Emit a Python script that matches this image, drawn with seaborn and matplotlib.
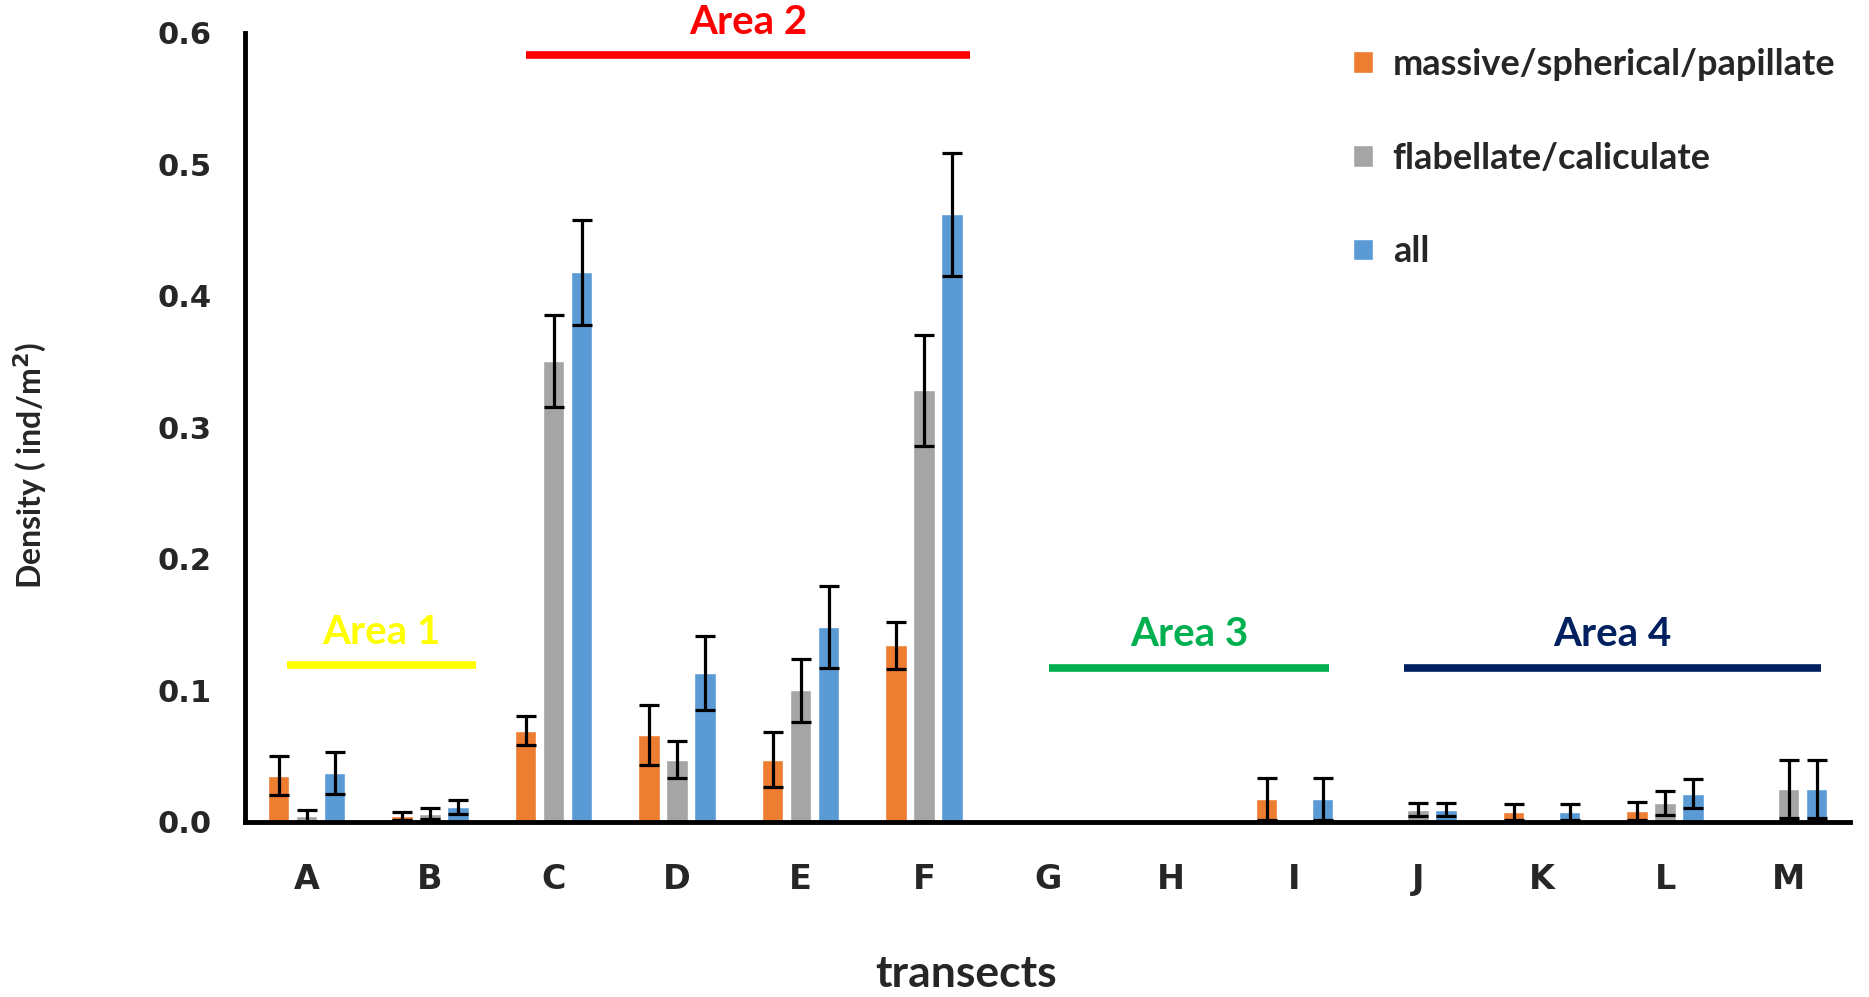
import numpy as np
import pandas as pd
import matplotlib
matplotlib.use('Agg')
import matplotlib.pyplot as plt
import seaborn as sns

transects = ['A', 'B', 'C', 'D', 'E', 'F', 'G', 'H', 'I', 'J', 'K', 'L', 'M']
groups = ['massive/spherical/papillate', 'flabellate/caliculate', 'all']

massive = [0.035, 0.004, 0.069, 0.066, 0.047, 0.134, 0, 0, 0.017, 0, 0.007, 0.008, 0]
massive_err = [0.015, 0.003, 0.011, 0.023, 0.021, 0.018, 0, 0, 0.016, 0, 0.006, 0.007, 0]
flabellate = [0.004, 0.006, 0.350, 0.047, 0.100, 0.328, 0, 0, 0, 0.009, 0, 0.014, 0.025]
flabellate_err = [0.005, 0.004, 0.035, 0.014, 0.024, 0.042, 0, 0, 0, 0.005, 0, 0.009, 0.022]
all_ = [0.037, 0.011, 0.418, 0.113, 0.148, 0.462, 0, 0, 0.017, 0.009, 0.007, 0.021, 0.025]
all_err = [0.016, 0.005, 0.040, 0.028, 0.031, 0.047, 0, 0, 0.016, 0.005, 0.006, 0.011, 0.022]

areas = ['Area 1', 'Area 2', 'Area 3', 'Area 4']
area_colors = ['#FFFF00', '#FF0000', '#00B050', '#002060']
area_x = [(-0.16, 1.37), (1.78, 5.37), (6.01, 8.28), (8.89, 12.26)]
area_y = [0.119, 0.583, 0.117, 0.117]

colors = ['#ED7D31', '#A5A5A5', '#5B9BD5']

df = pd.DataFrame({
    'transect': transects * 3,
    'group': [g for g in groups for _ in transects],
    'value': massive + flabellate + all_,
    'err': massive_err + flabellate_err + all_err,
})

sns.set_style('white')
fig = plt.figure(figsize=(18.69, 9.97), dpi=100)
ax = fig.add_axes([0.131, 0.176, 0.859, 0.791])

sns.barplot(data=df, x='transect', y='value', hue='group', palette=colors,
            width=0.68, gap=0.24, errorbar=None, ax=ax, saturation=1)

# error bars on top of the bars seaborn drew
bars = [p for p in ax.patches if p.get_width() > 0][:len(df)]
xs = np.array([p.get_x() + p.get_width() / 2 for p in bars])
ys = df['value'].values
es = df['err'].values
m = es > 0
ax.errorbar(xs[m], ys[m], yerr=es[m], fmt='none', ecolor='black',
            elinewidth=2.3, capsize=7, capthick=2.3, zorder=5)

ax.set_xlim(-0.5, 12.5)
ax.set_ylim(0, 0.6)
ax.set_yticks(np.arange(0, 0.61, 0.1))
ax.set_yticklabels([f'{v:.1f}' for v in np.arange(0, 0.61, 0.1)])
ax.tick_params(axis='both', length=0)
ax.tick_params(axis='x', labelsize=24, pad=30)
ax.tick_params(axis='y', labelsize=22, pad=24)
for lab in ax.get_xticklabels() + ax.get_yticklabels():
    lab.set_fontweight('bold')
    lab.set_family('DejaVu Sans')

sns.despine(ax=ax)
ax.spines['left'].set_linewidth(3.5)
ax.spines['bottom'].set_linewidth(3.5)
ax.spines['left'].set_color('black')
ax.spines['bottom'].set_color('black')

ax.set_xlabel('transects', fontsize=32, fontweight='bold', family='Lato')
ax.set_ylabel('Density ( ind/m$^\\mathbf{2}$)', fontsize=23, fontweight='bold',
              family='Lato')
ax.xaxis.set_label_coords(0.449, -0.168)
ax.yaxis.set_label_coords(-0.122, 0.452)

for name, col, (x0, x1), y in zip(areas, area_colors, area_x, area_y):
    ax.plot([x0, x1], [y, y], color=col, lw=5.5, solid_capstyle='butt', clip_on=False)
    ax.text((x0 + x1) / 2, y + 0.011, name, color=col, fontsize=29, fontweight='bold',
            family='Lato', ha='center', va='bottom', clip_on=False)

ax.legend(loc='upper left', bbox_to_anchor=(0.670, 1.022), frameon=False,
          prop={'family': 'Lato', 'weight': 'bold', 'size': 26},
          handlelength=0.55, handleheight=0.55, handletextpad=0.55, labelspacing=1.68)

fig.savefig('out.png', dpi=100)
